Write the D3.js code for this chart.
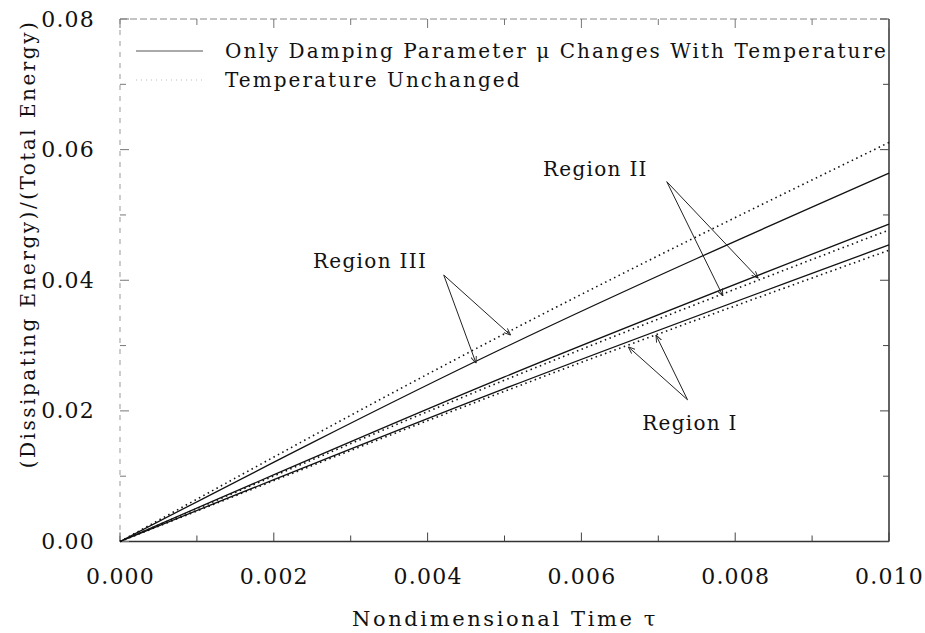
<!DOCTYPE html>
<html>
<head>
<meta charset="utf-8">
<script src="https://cdn.jsdelivr.net/npm/d3@7"></script>
<style>
  body { margin: 0; background: #fff; }
  text { font-family: "DejaVu Serif", "Liberation Serif", serif; fill: #111; }
</style>
</head>
<body>
<div id="chart"></div>
<script>
// values (tau, energy ratio)
const tau = [0, 0.005, 0.010];
const region1Solid = [0, 0.0234, 0.0454];
const region1Dotted = [0, 0.0230, 0.0446];
const region2Solid = [0, 0.0252, 0.0486];
const region2Dotted = [0, 0.0247, 0.0477];
const region3Solid = [0, 0.0297, 0.0564];
const region3Dotted = [0, 0.0318, 0.0611];

const xTicks = [0, 0.002, 0.004, 0.006, 0.008, 0.010];
const yTicks = [0, 0.02, 0.04, 0.06, 0.08];

const legendLabels = ["Only Damping Parameter \u03bc Changes With Temperature", "Temperature Unchanged"];

// region labels and arrows: label anchor, arrow start, arrow tips as [tau, value]
const regionNotes = [
  { label: "Region III", lx: 0.00251, ly: 0.0419, from: [0.00421, 0.0408], to: [[0.00463, 0.0273], [0.00508, 0.0316]] },
  { label: "Region II", lx: 0.00550, ly: 0.0560, from: [0.00711, 0.0551], to: [[0.00784, 0.0376], [0.00830, 0.0403]] },
  { label: "Region I", lx: 0.00679, ly: 0.0171, from: [0.00738, 0.0217], to: [[0.00661, 0.0298], [0.00697, 0.0316]] }
];

const width = 925, height = 633;
const margin = { top: 19, right: 36, bottom: 91.5, left: 120 };
const w = width - margin.left - margin.right;
const h = height - margin.top - margin.bottom;

const svg = d3.select("#chart").append("svg")
  .attr("width", width).attr("height", height);
const g = svg.append("g").attr("transform", `translate(${margin.left},${margin.top})`);

const x = d3.scaleLinear().domain([0, 0.010]).range([0, w]);
const y = d3.scaleLinear().domain([0, 0.08]).range([h, 0]);

svg.append("defs").append("marker")
  .attr("id", "arr").attr("viewBox", "0 0 10 10")
  .attr("refX", 10).attr("refY", 5)
  .attr("markerWidth", 7).attr("markerHeight", 7)
  .attr("orient", "auto")
  .append("path").attr("d", "M0,1 L10,5 L0,9").attr("fill", "none")
  .attr("stroke", "#222").attr("stroke-width", 1.3);

// frame: top/left faint like the scan, right/bottom solid
g.append("line").attr("x1", 0).attr("x2", w).attr("y1", 0).attr("y2", 0)
  .attr("stroke", "#888").attr("stroke-dasharray", "7,3");
g.append("line").attr("x1", 0).attr("x2", 0).attr("y1", 0).attr("y2", h)
  .attr("stroke", "#999").attr("stroke-dasharray", "5,6");
g.append("line").attr("x1", w).attr("x2", w).attr("y1", 0).attr("y2", h)
  .attr("stroke", "#222").attr("stroke-width", 1.4);
g.append("line").attr("x1", 0).attr("x2", w).attr("y1", h).attr("y2", h)
  .attr("stroke", "#333").attr("stroke-width", 1.3);

// ticks, inward on all four sides
const xMinor = d3.range(0, 11).map(i => i * 0.001);
const yMinor = d3.range(0, 9).map(i => i * 0.01);
xMinor.forEach((t, i) => {
  const len = i % 2 === 0 ? 9 : 6;
  g.append("line").attr("x1", x(t)).attr("x2", x(t)).attr("y1", h).attr("y2", h - len).attr("stroke", "#444");
  g.append("line").attr("x1", x(t)).attr("x2", x(t)).attr("y1", 0).attr("y2", len).attr("stroke", "#777");
});
yMinor.forEach((t, i) => {
  const len = i % 2 === 0 ? 9 : 6;
  g.append("line").attr("x1", 0).attr("x2", len).attr("y1", y(t)).attr("y2", y(t)).attr("stroke", "#777");
  g.append("line").attr("x1", w).attr("x2", w - len).attr("y1", y(t)).attr("y2", y(t)).attr("stroke", "#444");
});

// tick labels through axes
const xAxis = d3.axisBottom(x).tickValues(xTicks).tickFormat(d3.format(".3f")).tickSize(0).tickPadding(27);
g.append("g").attr("transform", `translate(0,${h})`).call(xAxis)
  .call(s => s.select(".domain").remove())
  .selectAll("text").style("font-size", "22px").style("letter-spacing", "1.2px")
  .style("font-family", "DejaVu Serif");

const yAxis = d3.axisLeft(y).tickValues(yTicks).tickFormat(d3.format(".2f")).tickSize(0).tickPadding(25);
g.append("g").call(yAxis)
  .call(s => s.select(".domain").remove())
  .selectAll("text").style("font-size", "22px").style("letter-spacing", "1.2px")
  .style("font-family", "DejaVu Serif");

// axis titles
svg.append("text").attr("x", 505).attr("y", 626).attr("text-anchor", "middle")
  .style("font-size", "21px").style("letter-spacing", "2.6px").text("Nondimensional Time \u03c4");
svg.append("text").attr("transform", "translate(35,244) rotate(-90)").attr("text-anchor", "middle")
  .style("font-size", "20px").style("letter-spacing", "2.5px").text("(Dissipating Energy)/(Total Energy)");

// curves
const line = d3.line().x(d => x(d[0])).y(d => y(d[1])).curve(d3.curveMonotoneX);
const series = [
  { v: region3Dotted, dash: "1.5,3.5" },
  { v: region3Solid, dash: null },
  { v: region2Solid, dash: null },
  { v: region2Dotted, dash: "1.5,3.5" },
  { v: region1Solid, dash: null },
  { v: region1Dotted, dash: "1.5,3.5" }
];
series.forEach(s => {
  g.append("path").datum(tau.map((t, i) => [t, s.v[i]]))
    .attr("d", line).attr("fill", "none").attr("stroke", "#111")
    .attr("stroke-width", s.dash ? 1.6 : 1.3)
    .attr("stroke-dasharray", s.dash);
});

// region labels + arrows
regionNotes.forEach(n => {
  g.append("text").attr("x", x(n.lx)).attr("y", y(n.ly))
    .style("font-size", "20px").style("letter-spacing", "1.3px").text(n.label);
  n.to.forEach(p => {
    g.append("line").attr("x1", x(n.from[0])).attr("y1", y(n.from[1]))
      .attr("x2", x(p[0])).attr("y2", y(p[1]))
      .attr("stroke", "#222").attr("stroke-width", 1).attr("marker-end", "url(#arr)");
  });
});

// legend
const legend = svg.append("g");
legendLabels.forEach((lab, i) => {
  const ly = 51 + i * 29;
  legend.append("line").attr("x1", 136).attr("x2", 203).attr("y1", ly).attr("y2", ly)
    .attr("stroke", i === 0 ? "#555" : "#bbb").attr("stroke-width", 1)
    .attr("stroke-dasharray", i === 0 ? null : "1,4");
  legend.append("text").attr("x", 225).attr("y", ly + 7)
    .style("font-size", "20px").style("letter-spacing", "2.05px").text(lab);
});
</script>
</body>
</html>
